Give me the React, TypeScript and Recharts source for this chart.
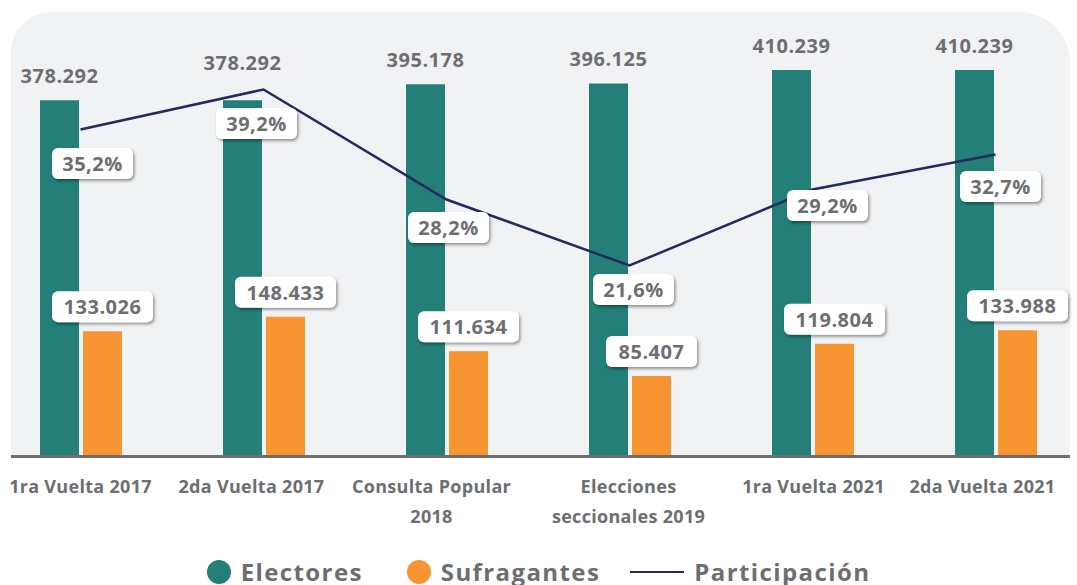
import { ComposedChart, Bar, Line, XAxis, YAxis, LabelList, Legend } from "recharts";

const categories = [
  "1ra Vuelta 2017",
  "2da Vuelta 2017",
  "Consulta Popular\n2018",
  "Elecciones\nseccionales 2019",
  "1ra Vuelta 2021",
  "2da Vuelta 2021",
];
const electores = [378292, 378292, 395178, 396125, 410239, 410239];
const sufragantes = [133026, 148433, 111634, 85407, 119804, 133988];
const participacion = [35.2, 39.2, 28.2, 21.6, 29.2, 32.7];

const TEAL = "#237f78";
const ORANGE = "#f69532";
const NAVY = "#232a5c";
const GRAY = "#6d6e71";
const PANEL = "#f1f2f4";
const FONT = "'Open Sans', sans-serif";

// small nudges that keep labels clear of the line
const electoresLift = [0, 13, 0, 0, 0, 0];
const pctOffset = [
  [12, 34],
  [-7, 34],
  [2, 28],
  [4, 24],
  [15, 16],
  [5, 32],
];
const tickShift = [0, -12, -15, -1, 1, -13];

const data = categories.map((name, i) => ({
  name,
  electores: electores[i],
  sufragantes: sufragantes[i],
  participacion: participacion[i],
}));

const fmtMiles = (v: number) => String(v).replace(/\B(?=(\d{3})+(?!\d))/g, ".");
const fmtPct = (v: number) => v.toFixed(1).replace(".", ",") + "%";

const LabelBox = ({ cx, cy, text }: { cx: number; cy: number; text: string }) => {
  const w = text.length * 10 + 31;
  const h = 31;
  return (
    <g>
      <rect
        x={cx - w / 2}
        y={cy - h / 2}
        width={w}
        height={h}
        rx={6}
        fill="#fff"
        filter="url(#boxShadow)"
      />
      <text
        x={cx}
        y={cy + 7.5}
        textAnchor="middle"
        fill={GRAY}
        fontSize={20}
        fontWeight={700}
        fontFamily={FONT}
        letterSpacing={0.5}
      >
        {text}
      </text>
    </g>
  );
};

const ElectoresLabel = (props: any) => {
  const { x, y, width, value, index } = props;
  return (
    <text
      x={x + width / 2}
      y={y - 17 - electoresLift[index]}
      textAnchor="middle"
      fill={GRAY}
      fontSize={20}
      fontWeight={700}
      fontFamily={FONT}
      letterSpacing={0.5}
    >
      {fmtMiles(value)}
    </text>
  );
};

const SufragantesLabel = (props: any) => {
  const { x, y, width, value } = props;
  return <LabelBox cx={x + width / 2} cy={y - 9 - 15.5} text={fmtMiles(value)} />;
};

const PctLabel = (props: any) => {
  const { x, y, value, index } = props;
  const [dx, dy] = pctOffset[index];
  return <LabelBox cx={x + dx} cy={y + dy} text={fmtPct(value)} />;
};

const CategoryTick = (props: any) => {
  const { x, y, payload, index } = props;
  const cx = x + tickShift[index];
  const lines = String(payload.value).split("\n");
  return (
    <text
      x={cx}
      y={y}
      textAnchor="middle"
      fill={GRAY}
      fontSize={18}
      fontWeight={700}
      fontFamily={FONT}
      letterSpacing={0.3}
    >
      {lines.map((line, i) => (
        <tspan key={i} x={cx} dy={i === 0 ? 36.5 : 30}>
          {line}
        </tspan>
      ))}
    </text>
  );
};

const LegendContent = () => {
  const dot = (color: string) => (
    <span
      style={{
        display: "inline-block",
        width: 24,
        height: 24,
        borderRadius: "50%",
        background: color,
        marginRight: 10,
      }}
    />
  );
  return (
    <div
      style={{
        display: "flex",
        justifyContent: "center",
        alignItems: "center",
        fontFamily: FONT,
        fontWeight: 700,
        fontSize: 24,
        lineHeight: "24px",
        letterSpacing: 1.4,
        color: GRAY,
      }}
    >
      <span style={{ display: "flex", alignItems: "center", marginRight: 44 }}>
        {dot(TEAL)}Electores
      </span>
      <span style={{ display: "flex", alignItems: "center", marginRight: 30 }}>
        {dot(ORANGE)}Sufragantes
      </span>
      <span style={{ display: "flex", alignItems: "center" }}>
        <span
          style={{
            display: "inline-block",
            width: 54,
            height: 2.5,
            background: NAVY,
            marginRight: 10,
          }}
        />
        Participación
      </span>
    </div>
  );
};

export default function App() {
  return (
    <div style={{ position: "absolute", left: 0, top: 0, width: 1077, height: 585, background: "#fff" }}>
      <svg width={0} height={0} style={{ position: "absolute" }}>
        <defs>
          <filter id="boxShadow" x="-20%" y="-30%" width="150%" height="180%">
            <feDropShadow dx="1.5" dy="2" stdDeviation="1.5" floodColor="#000" floodOpacity="0.4" />
          </filter>
        </defs>
      </svg>
      <div
        style={{
          position: "absolute",
          left: 11,
          top: 12,
          width: 1059,
          height: 444,
          background: PANEL,
          borderRadius: "40px 50px 0 0",
        }}
      />
      <div style={{ position: "absolute", left: 0, top: 0 }}>
        <ComposedChart
          width={1077}
          height={585}
          data={data}
          margin={{ top: 35.5, right: 7, bottom: 38.5, left: 11 }}
        >
          <YAxis yAxisId="left" hide domain={[0, 447000]} />
          <YAxis yAxisId="right" hide domain={[2.5, 44.6]} orientation="right" />
          <Bar
            yAxisId="left"
            dataKey="electores"
            fill={TEAL}
            barSize={39}
            isAnimationActive={false}
          >
            <LabelList dataKey="electores" content={ElectoresLabel} />
          </Bar>
          <Bar
            yAxisId="left"
            dataKey="sufragantes"
            fill={ORANGE}
            barSize={39}
            isAnimationActive={false}
          >
            <LabelList dataKey="sufragantes" content={SufragantesLabel} />
          </Bar>
          <Line
            yAxisId="right"
            dataKey="participacion"
            type="linear"
            stroke={NAVY}
            strokeWidth={2.5}
            dot={false}
            activeDot={false}
            isAnimationActive={false}
          >
            <LabelList dataKey="participacion" content={PctLabel} />
          </Line>
          <XAxis
            dataKey="name"
            height={90}
            padding={{ left: -22, right: -17 }}
            axisLine={{ stroke: GRAY, strokeWidth: 3 }}
            tickLine={false}
            tickSize={0}
            tickMargin={0}
            interval={0}
            tick={CategoryTick}
          />
          <Legend
            verticalAlign="middle"
            align="center"
            layout="horizontal"
            content={LegendContent}
            wrapperStyle={{ top: 560, left: 0, width: 1077 }}
          />
        </ComposedChart>
      </div>
    </div>
  );
}
